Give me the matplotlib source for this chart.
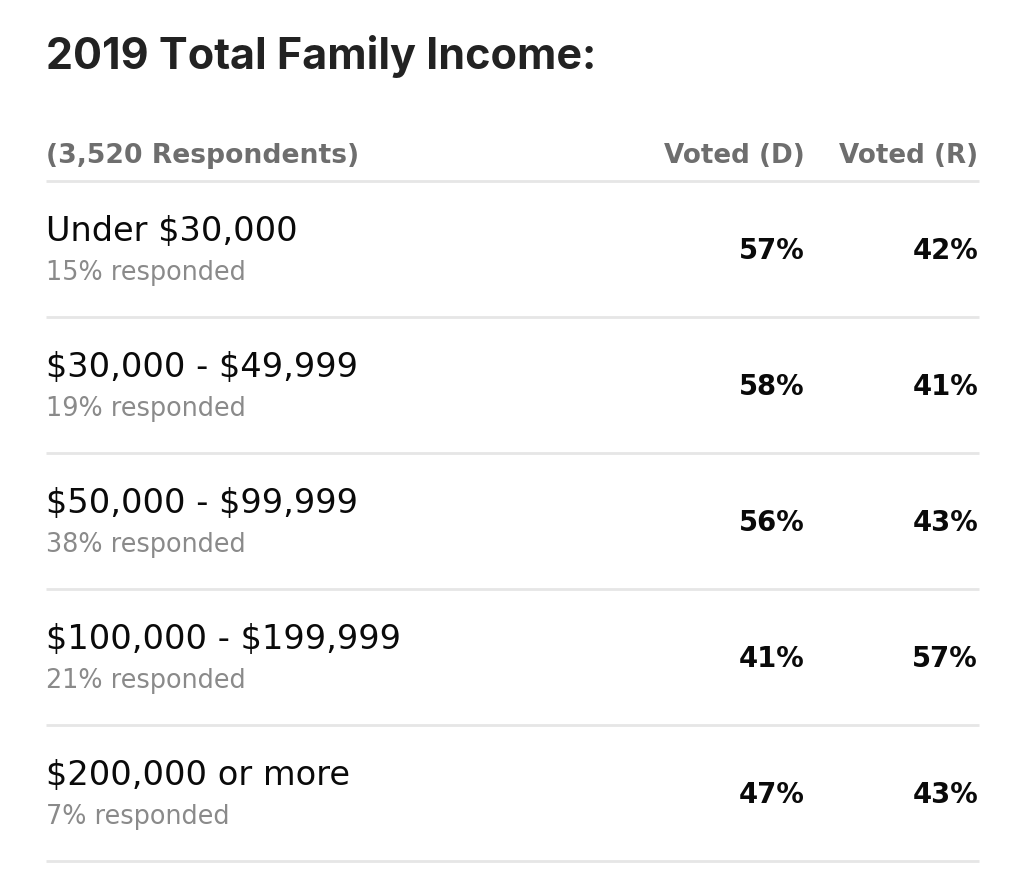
import matplotlib
matplotlib.use("Agg")
import matplotlib.pyplot as plt

title = "2019 Total Family Income:"
header_label = "(3,520 Respondents)"
col_headers = ["Voted (D)", "Voted (R)"]
categories = ["Under $30,000", "$30,000 - $49,999", "$50,000 - $99,999",
              "$100,000 - $199,999", "$200,000 or more"]
responded = [15, 19, 38, 21, 7]
voted_d = [57, 58, 56, 41, 47]
voted_r = [42, 41, 43, 57, 43]

plt.rcParams['font.family'] = ['DejaVu Sans']
title_font = ['Inter', 'DejaVu Sans']

W, H = 1024, 881
fig = plt.figure(figsize=(W / 100, H / 100), dpi=100)
ax = fig.add_axes([0, 0, 1, 1])
ax.set_xlim(0, W)
ax.set_ylim(H, 0)
ax.axis('off')

left = 46
right = 979
col_x = [805, 978]
line_color = '#e6e6e6'

ax.text(left, 56, title, fontsize=31, fontweight='bold', color='#222222',
        va='center', ha='left', family=title_font, parse_math=False)
ax.text(left, 156, header_label, fontsize=19.2, fontweight='bold', color='#6e6e6e',
        va='center', ha='left', parse_math=False)
for cx, h in zip(col_x, col_headers):
    ax.text(cx, 156, h, fontsize=18.8, fontweight='bold', color='#6e6e6e',
            va='center', ha='right', parse_math=False)

header_line = 181
row_h = 136
ax.hlines(header_line, left, right, color=line_color, lw=2)

for i, (cat, resp, d, r) in enumerate(zip(categories, responded, voted_d, voted_r)):
    top = header_line + i * row_h
    ax.text(left, top + 50, cat, fontsize=24.2, color='#0a0a0a', va='center', ha='left',
            parse_math=False)
    ax.text(left, top + 92, f"{resp}% responded", fontsize=18.4, color='#8a8a8a',
            va='center', ha='left', parse_math=False)
    ax.text(col_x[0], top + 70, f"{d}%", fontsize=19.8, fontweight='bold', color='#0a0a0a',
            va='center', ha='right', parse_math=False)
    ax.text(col_x[1], top + 70, f"{r}%", fontsize=19.8, fontweight='bold', color='#0a0a0a',
            va='center', ha='right', parse_math=False)
    ax.hlines(top + row_h, left, right, color=line_color, lw=2)

fig.savefig('out.png', dpi=100, facecolor='white')
